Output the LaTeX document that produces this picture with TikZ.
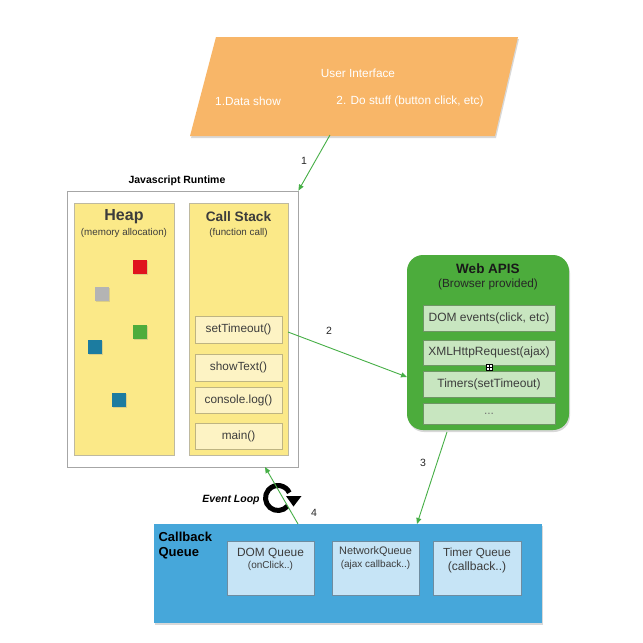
\documentclass[tikz,border=0pt]{standalone}
\usepackage{fontspec}
\setmainfont{Liberation Sans}
\usetikzlibrary{arrows.meta,shadows,calc}
\definecolor{uiorange}{RGB}{248,182,104}
\definecolor{ybox}{RGB}{251,233,136}
\definecolor{ybd}{RGB}{190,185,160}
\definecolor{framefill}{RGB}{253,243,196}
\definecolor{framebd}{RGB}{190,180,130}
\definecolor{webgreen}{RGB}{76,172,60}
\definecolor{apifill}{RGB}{200,230,192}
\definecolor{apibd}{RGB}{110,150,100}
\definecolor{qblue}{RGB}{70,167,218}
\definecolor{qfill}{RGB}{198,228,246}
\definecolor{qbd}{RGB}{110,140,160}
\definecolor{arrgreen}{RGB}{70,175,70}
\definecolor{sqred}{RGB}{224,20,30}
\definecolor{sqgray}{RGB}{180,180,180}
\definecolor{sqgreen}{RGB}{78,172,60}
\definecolor{sqblue}{RGB}{28,124,160}
\definecolor{txt}{RGB}{60,60,60}
\tikzset{
  arr/.style={draw=arrgreen, line width=0.9pt, -{Triangle[length=6pt,width=5pt]}},
  numlbl/.style={font=\fontsize{10.5}{12}\selectfont, text=black!85},
  frame/.style={draw=framebd, fill=framefill, minimum width=87pt, inner sep=0pt, font=\fontsize{11.8}{13}\selectfont, text=txt},
  apibox/.style={draw=apibd, fill=apifill, minimum width=132pt, inner sep=0pt, font=\fontsize{12}{14}\selectfont, text=txt},
  qbox/.style={draw=qbd, fill=qfill, minimum height=54pt, inner sep=0pt},
  sq/.style={minimum size=14pt, inner sep=0pt, drop shadow={opacity=0.25, shadow xshift=0.6pt, shadow yshift=-1pt}},
  shad/.style={drop shadow={opacity=0.3, shadow xshift=1pt, shadow yshift=-2pt}},
  uitxt/.style={text=white, font=\fontsize{11.8}{14}\selectfont},
}
\begin{document}
\begin{tikzpicture}[x=1pt,y=-1pt]
\useasboundingbox[fill=white] (0,0) rectangle (643,643);

% User interface parallelogram
\path[fill=uiorange, shad] (216,37) -- (518,37) -- (495,136) -- (190,136) -- cycle;
\node[uitxt] (ui) at (358,73) {User Interface};
\node[uitxt] (ui1) at (248,101) {1.Data show};
\node[uitxt] (ui2) at (410,101) {2. Do stuff (button click, etc)};
\coordinate (uiout) at (330,135);

% Javascript runtime
\node[font=\bfseries\fontsize{10.5}{12}\selectfont] (rtt) at (177,181) {Javascript Runtime};
\node[draw=black!35, line width=0.8pt, fill=white, minimum width=231pt, minimum height=276pt, inner sep=0pt] (rt) at (182.5,329) {};
\node[draw=ybd, fill=ybox, minimum width=100pt, minimum height=252pt, inner sep=0pt] (heap) at (124,329) {};
\node[draw=ybd, fill=ybox, minimum width=99pt, minimum height=252pt, inner sep=0pt] (cs) at (238.5,329) {};
\node[text=txt, font=\bfseries\fontsize{16}{18}\selectfont] (heapt) at (124,217) {Heap};
\node[text=txt, font=\fontsize{9.8}{11}\selectfont] (heaps) at (124,233) {(memory allocation)};
\node[text=txt, font=\bfseries\fontsize{13.7}{16}\selectfont] (cst) at (238.5,217) {Call Stack};
\node[text=txt, font=\fontsize{9.8}{11}\selectfont] (css) at (238.5,233) {(function call)};

% heap squares
\node[sq, fill=sqred] (s1) at (140,267) {};
\node[sq, fill=sqgray] (s2) at (102,294) {};
\node[sq, fill=sqgreen] (s3) at (140,332) {};
\node[sq, fill=sqblue] (s4) at (95,347) {};
\node[sq, fill=sqblue] (s5) at (119,400) {};

% stack frames
\node[frame, minimum height=27pt] (st) at (238.5,329.5) {setTimeout()};
\node[frame, minimum height=27pt] (sh) at (238.5,367.5) {showText()};
\node[frame, minimum height=26pt] (cl) at (238.5,400) {console.log()};
\node[frame, minimum height=26pt] (mn) at (238.5,436) {main()};

% Web APIs
\node[fill=webgreen, rounded corners=16pt, minimum width=162pt, minimum height=175pt, inner sep=0pt, shad] (web) at (488,342.5) {};
\node[font=\bfseries\fontsize{13.5}{15}\selectfont, text=black!90] (webt) at (488,268.5) {Web APIS};
\node[font=\fontsize{11.8}{13}\selectfont, text=black!85] (webs) at (488,284) {(Browser provided)};
\node[apibox, minimum height=26pt] (dom) at (489,318) {DOM events(click, etc)};
\node[apibox, minimum height=25pt] (xml) at (489,352.5) {XMLHttpRequest(ajax)};
\node[apibox, minimum height=26pt] (tim) at (489,384) {Timers(setTimeout)};
\node[apibox, minimum height=21pt, text=black!55] (dots) at (489,413.5) {...};
\node[draw=black, fill=white, line width=0.5pt, minimum size=6pt, inner sep=0pt] (pic) at (489,367) {};
\draw[line width=0.5pt] (pic.north) -- (pic.south) (pic.west) -- (pic.east);

% Callback queue
\node[fill=qblue, minimum width=388pt, minimum height=99pt, inner sep=0pt, shad] (cq) at (348,573.5) {};
\node[anchor=north west, align=left, font=\bfseries\fontsize{13}{15}\selectfont, text=black] (cqt) at (155,529) {Callback\\Queue};
\node[qbox, minimum width=87pt] (dq) at (270.5,568) {};
\node[qbox, minimum width=87pt] (nq) at (375.5,568) {};
\node[qbox, minimum width=88pt] (tq) at (477,568) {};
\node[text=txt, font=\fontsize{11.9}{13}\selectfont] (dqt) at (270.5,553) {DOM Queue};
\node[text=txt, font=\fontsize{10}{11}\selectfont] (dqs) at (270.5,566) {(onClick..)};
\node[text=txt, font=\fontsize{10.9}{12}\selectfont] (nqt) at (375.5,552) {NetworkQueue};
\node[text=txt, font=\fontsize{10}{11}\selectfont] (nqs) at (375.5,565) {(ajax callback..)};
\node[text=txt, font=\fontsize{11.7}{13}\selectfont] (tqt) at (477,553) {Timer Queue};
\node[text=txt, font=\fontsize{12.1}{13}\selectfont] (tqs) at (477,567) {(callback..)};

% event loop icon (drawn under the arrow)
\node[font=\bfseries\itshape\fontsize{10.5}{12}\selectfont] (el) at (231,500) {Event Loop};
\coordinate (loopc) at (278,498);
\draw[line width=5pt] ([shift={(-40:12.5pt)}]loopc) arc[start angle=-40, end angle=-335, radius=12.5pt];
\fill ([shift={(8pt,2pt)}]loopc) -- ([shift={(23.5pt,2pt)}]loopc) -- ([shift={(15.5pt,-8.5pt)}]loopc) -- cycle;

% connectors
\draw[arr] (uiout) -- (rt.north east);
\node[numlbl] (n1) at (304,161) {1};

\coordinate (a2s) at (288,332);
\coordinate (a2e) at (407,377);
\draw[arr] (a2s) -- (a2e);
\node[numlbl] (n2) at (329,331) {2};

\coordinate (a3s) at (447,432);
\coordinate (a3e) at (417,524);
\draw[arr] (a3s) -- (a3e);
\node[numlbl] (n3) at (423,463) {3};

\coordinate (a4s) at (298,524);
\coordinate (a4e) at (265,467);
\draw[arr] (a4s) -- (a4e);
\node[numlbl] (n4) at (314,513) {4};
\end{tikzpicture}
\end{document}
